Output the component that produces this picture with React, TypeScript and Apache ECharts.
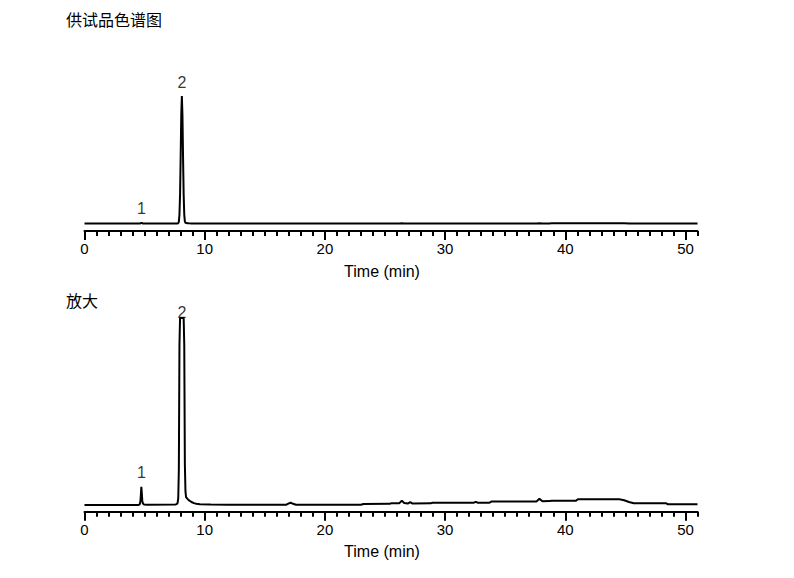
import React, { useEffect, useRef } from "react";
import * as echarts from "echarts";

// Chromatogram signal: [time (min), response]
const signal: [number, number][] = [
  [0, 0], [4.5, 0], [4.6, 0.3], [4.65, 1.5], [4.69, 4.5], [4.73, 8], [4.77, 5],
  [4.81, 1.8], [4.86, 0.6], [4.95, 0.2], [5.2, 0.1], [7.6, 0.2], [7.7, 0.5],
  [7.75, 1], [7.8, 3], [7.85, 16], [7.9, 71], [7.95, 226], [8.0, 517], [8.05, 848],
  [8.1, 1000], [8.15, 848], [8.2, 517], [8.25, 226], [8.3, 71], [8.35, 18], [8.4, 6],
  [8.45, 3.5], [8.55, 2.8], [8.7, 2.0], [8.9, 1.3], [9.1, 0.8], [9.3, 0.5], [9.6, 0.35],
  [10.5, 0.2], [12.0, 0.1], [16.8, 0.1], [17.0, 0.7], [17.15, 1.0], [17.35, 0.5],
  [17.6, 0.1], [23.0, 0.1], [23.2, 0.45], [25.4, 0.5], [25.5, 0.7], [26.2, 0.8],
  [26.4, 1.9], [26.6, 0.9], [26.9, 0.6], [27.1, 1.2], [27.3, 0.6], [28.8, 0.7],
  [28.95, 1.0], [32.4, 1.0], [32.55, 1.4], [32.7, 1.0], [33.7, 1.0], [33.85, 1.5],
  [37.6, 1.5], [37.85, 2.7], [38.1, 1.6], [38.7, 1.7], [38.85, 1.9], [40.9, 1.9],
  [41.05, 2.5], [44.5, 2.5], [44.9, 2.1], [45.3, 1.3], [45.7, 0.75], [48.4, 0.75],
  [48.55, 0.3], [51, 0.3],
];

const peakNames = ["1", "2"];
const peakTimes = [4.73, 8.1];
const peakHeights = [8, 1000];

const majorTicks = [0, 10, 20, 30, 40, 50];
const titles = ["供试品色谱图", "放大"];
const axisName = "Time (min)";
const timeMax = 51;
const fullRange: [number, number] = [-58, 1000];
const zoomRange: [number, number] = [-3, 83];

const numFont = "'Liberation Sans', Arial, sans-serif";
const cjkFont = "'Noto Sans CJK SC', sans-serif";

export default function App() {
  const ref = useRef<HTMLDivElement>(null);

  useEffect(() => {
    document.body.style.margin = "0";
    if (!ref.current) return;
    const chart = echarts.init(ref.current, null, { renderer: "svg" });

    const grids = [
      { left: 84.5, right: 96.5, top: 96, bottom: 347 },
      { left: 84.5, right: 96.5, top: 318, bottom: 66.3 },
    ];
    const ranges = [fullRange, zoomRange];

    const xAxis: any[] = [];
    const yAxis: any[] = [];
    const series: any[] = [];

    grids.forEach((g, gi) => {
      xAxis.push({
        type: "value",
        gridIndex: gi,
        min: 0,
        max: timeMax,
        name: axisName,
        nameLocation: "middle",
        nameGap: 32,
        nameTextStyle: {
          fontSize: 16,
          color: "#000",
          fontFamily: numFont,
          padding: [0, 18, 0, 0],
        },
        splitLine: { show: false },
        axisLine: { show: true, onZero: false, lineStyle: { color: "#000", width: 2 } },
        axisTick: {
          show: true,
          length: 9,
          lineStyle: { color: "#000", width: 2 },
          customValues: majorTicks,
        },
        axisLabel: {
          show: true,
          margin: 10,
          fontSize: 15,
          color: "#000",
          fontFamily: numFont,
          customValues: majorTicks,
        },
      });
      xAxis.push({
        type: "value",
        gridIndex: gi,
        min: 0,
        max: timeMax,
        interval: 1,
        position: "bottom",
        splitLine: { show: false },
        axisLine: { show: false, onZero: false },
        axisTick: { show: true, length: 5, lineStyle: { color: "#000", width: 2 } },
        axisLabel: { show: false },
      });
      const [yMin, yMax] = ranges[gi];
      yAxis.push({ type: "value", gridIndex: gi, min: yMin, max: yMax, show: false });

      series.push({
        type: "line",
        xAxisIndex: gi * 2,
        yAxisIndex: gi,
        data: signal.map(([t, v]) => [t, Math.min(v, yMax)]),
        showSymbol: false,
        symbol: "none",
        lineStyle: { color: "#000", width: 2 },
        clip: true,
        silent: true,
      });
      series.push({
        type: "scatter",
        xAxisIndex: gi * 2,
        yAxisIndex: gi,
        symbolSize: 0,
        itemStyle: { color: "rgba(0,0,0,0)" },
        clip: false,
        silent: true,
        label: {
          show: true,
          position: "top",
          distance: 6,
          formatter: "{b}",
          fontSize: 16,
          color: "#000",
          fontFamily: numFont,
        },
        data: peakTimes.map((t, i) => {
          const clipped = peakHeights[i] > yMax;
          const item: any = {
            name: peakNames[i],
            value: [t, Math.min(peakHeights[i], yMax)],
          };
          if (clipped) {
            item.label = {
              show: true,
              position: "top",
              distance: -2,
              formatter: "{b}",
              fontSize: 16,
              color: "#000",
              fontFamily: numFont,
            };
          }
          return item;
        }),
      });
    });

    chart.setOption({
      animation: false,
      backgroundColor: "#fff",
      title: [
        {
          text: titles[0],
          left: 66,
          top: 11,
          padding: 0,
          textStyle: { fontSize: 16, fontWeight: "normal", color: "#000", fontFamily: cjkFont },
        },
        {
          text: titles[1],
          left: 66,
          top: 292,
          padding: 0,
          textStyle: { fontSize: 16, fontWeight: "normal", color: "#000", fontFamily: cjkFont },
        },
      ],
      grid: grids,
      xAxis,
      yAxis,
      series,
    });

    return () => chart.dispose();
  }, []);

  return <div ref={ref} style={{ width: 794, height: 578 }} />;
}
